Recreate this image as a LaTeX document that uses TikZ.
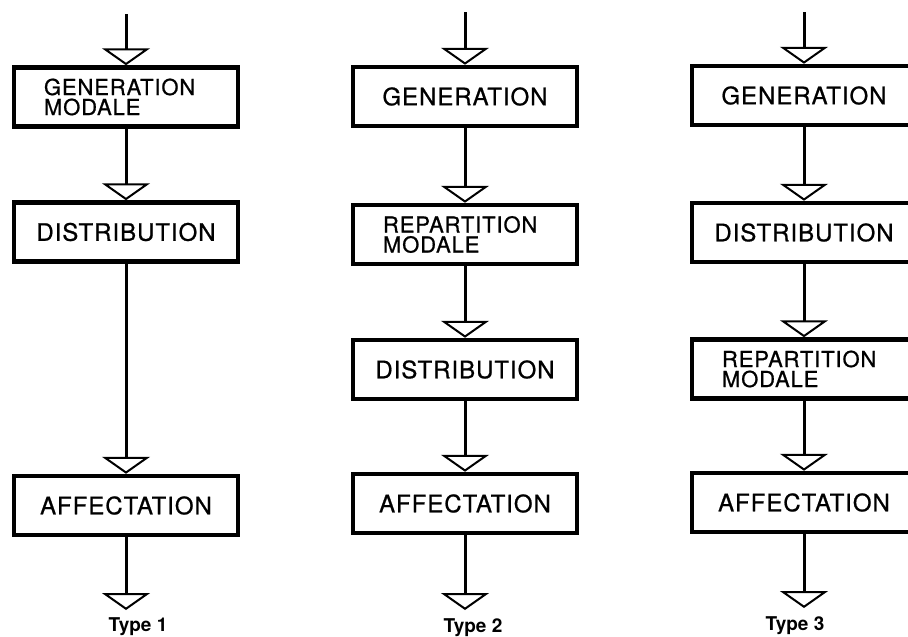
\documentclass[tikz,border=0pt]{standalone}
\usepackage{fontspec}
\setmainfont{TeX Gyre Heros}[FakeBold=0.8, LetterSpace=4]
\newfontfamily\typefont{TeX Gyre Heros}[Scale=1]
\usetikzlibrary{arrows.meta}
\begin{document}
\begin{tikzpicture}[x=1pt,y=-1pt,
  blk/.style={draw, line width=4.5pt, minimum width=224pt, minimum height=59pt,
    inner sep=0pt, font=\fontsize{24}{24}\selectfont},
  blk2/.style={blk, align=left, text width=164pt, font=\fontsize{22}{20}\selectfont},
  flow/.style={line width=3pt,
    -{Triangle[open, width=48pt, length=17pt, line width=2pt]}},
  typ/.style={font=\typefont\bfseries\fontsize{19}{19}\selectfont, anchor=base, inner sep=0pt}]
\useasboundingbox (0,0) rectangle (908,637);
\clip (0,0) rectangle (908,637);

% Type 1
\coordinate (t1) at (126,14);
\node[blk2] (g1) at (126,97)    {GENERATION\\MODALE};
\node[blk]  (d1) at (126,232)   {DISTRIBUTION};
\node[blk]  (a1) at (126,505.5) {AFFECTATION};
\coordinate (e1) at (126,610);
\node[typ] (n1) at (138,631) {Type 1};
\draw[flow] (t1) -- (g1.north);
\draw[flow] (g1.south) -- (d1.north);
\draw[flow] (d1.south) -- (a1.north);
\draw[flow] (a1.south) -- (e1);

% Type 2
\coordinate (t2) at (465,12);
\node[blk]  (g2) at (465,96.5)  {GENERATION};
\node[blk2] (r2) at (465,234.5) {REPARTITION\\MODALE};
\node[blk]  (d2) at (465,369.5) {DISTRIBUTION};
\node[blk]  (a2) at (465,503.5) {AFFECTATION};
\coordinate (e2) at (465,610);
\node[typ] (n2) at (473,632) {Type 2};
\draw[flow] (t2) -- (g2.north);
\draw[flow] (g2.south) -- (r2.north);
\draw[flow] (r2.south) -- (d2.north);
\draw[flow] (d2.south) -- (a2.north);
\draw[flow] (a2.south) -- (e2);

% Type 3
\coordinate (t3) at (804,12);
\node[blk]  (g3) at (804,95.5)  {GENERATION};
\node[blk]  (d3) at (804,232.5) {DISTRIBUTION};
\node[blk2] (r3) at (804,369)   {REPARTITION\\MODALE};
\node[blk]  (a3) at (804,502.5) {AFFECTATION};
\coordinate (e3) at (804,608);
\node[typ] (n3) at (795,630) {Type 3};
\draw[flow] (t3) -- (g3.north);
\draw[flow] (g3.south) -- (d3.north);
\draw[flow] (d3.south) -- (r3.north);
\draw[flow] (r3.south) -- (a3.north);
\draw[flow] (a3.south) -- (e3);
\end{tikzpicture}
\end{document}
